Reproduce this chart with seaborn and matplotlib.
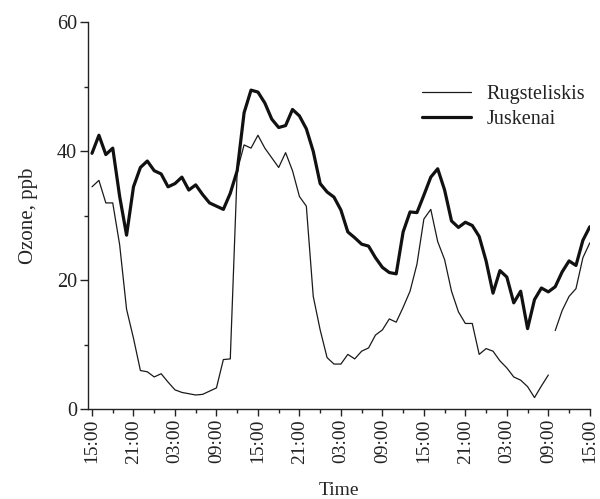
import numpy as np
import pandas as pd
import matplotlib
matplotlib.use("Agg")
import matplotlib.pyplot as plt
import seaborn as sns

# hourly ozone readings, starting at 15:00, 72 h
hours = list(range(73))
tick_hours = list(range(0, 73, 6))
tick_labels = ["15:00", "21:00", "03:00", "09:00"] * 3 + ["15:00"]

rugsteliskis = [34.5, 35.5, 32, 32, 25.5, 15.5, 11, 6, 5.8, 5, 5.5, 4.2, 3,
                2.6, 2.4, 2.2, 2.3, 2.8, 3.3, 7.7, 7.8,
                37, 41, 40.5, 42.5, 40.5, 39, 37.5, 39.8, 37, 33, 31.5, 17.5,
                12.3, 8, 7, 7, 8.5, 7.8, 9, 9.5, 11.5, 12.3, 14, 13.5,
                15.8, 18.3, 22.5, 29.5, 31, 26, 23.2, 18.3, 15.1, 13.3, 13.3, 8.5, 9.4, 9,
                7.5, 6.4, 5, 4.5, 3.5, 1.8, 3.6, 5.3,
                12.2, 15.3, 17.5, 18.7, 23.5, 25.8]
rug_resume = 67  # record restarts here after a gap

juskenai = [39.7, 42.5, 39.5, 40.5, 33, 27, 34.5, 37.5, 38.5, 37, 36.5, 34.5, 35,
            36, 34, 34.8, 33.3, 32, 31.5, 31, 33.5, 37,
            46, 49.5, 49.2, 47.5, 45, 43.7, 44, 46.5, 45.5, 43.5, 40,
            35, 33.7, 32.9, 30.9, 27.5, 26.6, 25.6, 25.3, 23.5, 22, 21.2, 21,
            27.5, 30.6, 30.5, 33.2, 36, 37.3, 34, 29.2, 28.2, 29, 28.5, 26.8, 23, 18,
            21.5, 20.5, 16.5, 18.3, 12.5, 17, 18.8, 18.2, 19, 21.3, 23, 22.3, 26.2, 28.3]

rug = pd.DataFrame({"hour": hours, "ozone": rugsteliskis})
rug["seg"] = (rug["hour"] >= rug_resume).astype(int)
jus = pd.DataFrame({"hour": hours, "ozone": juskenai})

sns.set_style("ticks")
plt.rcParams["font.family"] = ["Liberation Serif", "DejaVu Serif"]
plt.rcParams["text.color"] = "#222222"
plt.rcParams["xtick.color"] = "#222222"
plt.rcParams["ytick.color"] = "#222222"
plt.rcParams["xtick.major.size"] = 5
plt.rcParams["xtick.minor.size"] = 3
plt.rcParams["ytick.major.size"] = 6
plt.rcParams["ytick.minor.size"] = 3

fig = plt.figure(figsize=(6, 4.99), dpi=100)
ax = fig.add_axes([0.147, 0.18, 0.836, 0.775])

sns.lineplot(data=rug, x="hour", y="ozone", units="seg", estimator=None,
             color="#1a1a1a", linewidth=0.9, ax=ax)
sns.lineplot(data=jus, x="hour", y="ozone", color="#111111", linewidth=2.3, ax=ax)

ax.set_xlim(-0.55, 72)
ax.set_ylim(0, 60)
ax.set_xticks(tick_hours)
ax.set_xticklabels(tick_labels, rotation=90, fontsize=14)
ax.set_xticks(range(3, 72, 6), minor=True)
ax.set_yticks([0, 20, 40, 60])
ax.set_yticks([10, 30, 50], minor=True)
ax.tick_params(axis="y", labelsize=14.5, width=1, which="both", pad=2)
ax.tick_params(axis="x", width=1, which="both", pad=2)
ax.set_xlabel("Time", fontsize=14, labelpad=13)
ax.set_ylabel("Ozone, ppb", fontsize=15, labelpad=14)
for s in ["left", "bottom"]:
    ax.spines[s].set_linewidth(1)
    ax.spines[s].set_color("#222222")
sns.despine(ax=ax)

handles = [plt.Line2D([], [], color="#1a1a1a", linewidth=0.9),
           plt.Line2D([], [], color="#111111", linewidth=2.3)]
ax.legend(handles, ["Rugsteliskis", "Juskenai"], loc="upper left",
          bbox_to_anchor=(0.63, 0.885), frameon=False, fontsize=14.5,
          handlelength=2.4, handletextpad=0.8, labelspacing=0.3)

fig.savefig("out.png", dpi=100)
